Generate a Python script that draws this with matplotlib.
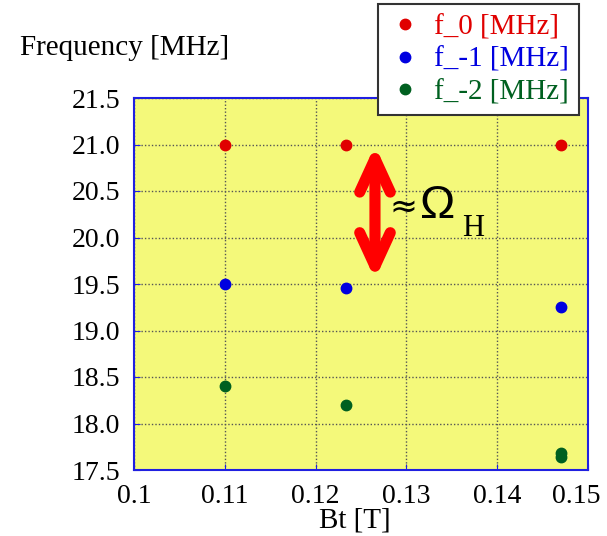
import numpy as np
import matplotlib.transforms as mtransforms
from matplotlib import pyplot as plt

plt.rcParams['font.family'] = ['Liberation Serif', 'DejaVu Serif']

# 数据
bt = [0.11, 0.1234, 0.147]
f0 = [21.0, 21.0, 21.0]
f1 = [19.5, 19.46, 19.25]
bt2 = [0.11, 0.1234, 0.147, 0.147]
f2 = [18.4, 18.2, 17.68, 17.64]

xticks = [0.1, 0.11, 0.12, 0.13, 0.14, 0.15]
xticklabels = ['0.1', '0.11', '0.12', '0.13', '0.14', '0.15']
yticks = [17.5, 18.0, 18.5, 19.0, 19.5, 20.0, 20.5, 21.0, 21.5]

fig = plt.figure(figsize=(6.07, 5.36), dpi=100)
ax = fig.add_axes([134/607, 1-470/536, 454/607, 372/536])
ax.set_facecolor('#f4f97a')

ax.plot(bt, f0, 'o', color='#e00000', ms=7.5, label='f_0 [MHz]')
ax.plot(bt, f1, 'o', color='#0000e0', ms=7.5, label='f_-1 [MHz]')
ax.plot(bt2, f2, 'o', color='#006020', ms=7.5, label='f_-2 [MHz]')

ax.set_xlim(0.1, 0.15)
ax.set_ylim(17.5, 21.5)
ax.set_xticks(xticks)
ax.set_xticklabels(xticklabels)
ax.set_yticks(yticks)
ax.set_yticklabels(['%.1f' % v for v in yticks])
ax.tick_params(labelsize=20, direction='in', color='#2020e0', length=4, pad=10)
ax.grid(True, color='#555555', linestyle=(0, (1, 1.5)), linewidth=1)
for s in ax.spines.values():
    s.set_color('#2020e0')
    s.set_linewidth(1.5)
# 最后一个刻度标签往左挪一点，避免被裁掉
lab = ax.get_xticklabels()[-1]
lab.set_transform(lab.get_transform() + mtransforms.ScaledTranslation(-12/100, 0, fig.dpi_scale_trans))

# 双向箭头
ax.annotate('', xy=(0.12654, 19.55), xytext=(0.12654, 20.99),
            arrowprops=dict(arrowstyle='<->,head_width=1.1,head_length=2.4',
                            color='#ff0000', lw=8, shrinkA=0, shrinkB=0,
                            mutation_scale=10, capstyle='round', joinstyle='round'))
fig.text(403/607, 1-207/536, '≈', fontsize=24, va='center', ha='center',
         family=['DejaVu Sans'])
fig.text(420/607, 1-206/536, 'Ω', fontsize=34, va='center', ha='left',
         family=['Liberation Sans'])
fig.text(462/607, 1-229/536, 'H', fontsize=22, va='center', ha='left')

fig.text(20/607, 1-48/536, 'Frequency [MHz]', fontsize=21, va='center', ha='left')
fig.text(355/607, 1-520/536, 'Bt [T]', fontsize=21, va='center', ha='center')

leg = fig.legend(loc='upper right', bbox_to_anchor=(579/607, 1-4/536), fontsize=21,
                 handlelength=1.2, handletextpad=0.38, borderpad=0.35, labelspacing=0.2,
                 borderaxespad=0, fancybox=False, edgecolor='#333333', framealpha=1,
                 markerscale=1)
leg.get_frame().set_linewidth(1.5)
for t, c in zip(leg.get_texts(), ['#e00000', '#0000e0', '#006020']):
    t.set_color(c)

plt.savefig('out.png', dpi=100)
